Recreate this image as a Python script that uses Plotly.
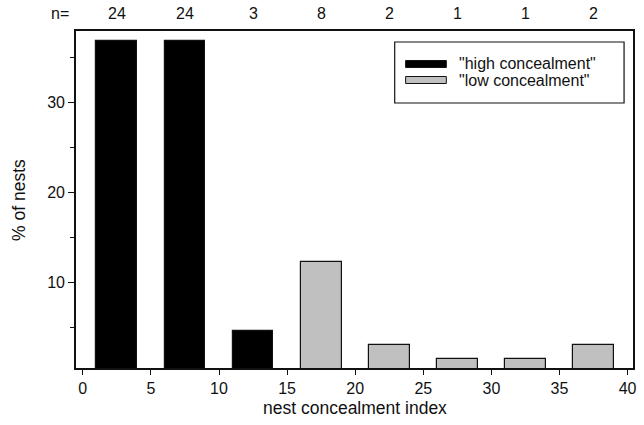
import plotly.graph_objects as go

# data
bin_centers = [2.5, 7.5, 12.5, 17.5, 22.5, 27.5, 32.5, 37.5]
pct_nests = [36.9, 36.9, 4.6, 12.3, 3.1, 1.5, 1.5, 3.1]
n_counts = ["24", "24", "3", "8", "2", "1", "1", "2"]
groups = ["high", "high", "high", "low", "low", "low", "low", "low"]
x_ticks = [0, 5, 10, 15, 20, 25, 30, 35, 40]
y_ticks = [10, 20, 30]
legend_labels = ['"high concealment"', '"low concealment"']

FONT = "Liberation Sans, Arial, Helvetica, sans-serif"
colors = {"high": "#000000", "low": "#c0c0c0"}

fig = go.Figure()
for g in ["high", "low"]:
    xs = [x for x, gg in zip(bin_centers, groups) if gg == g]
    ys = [y for y, gg in zip(pct_nests, groups) if gg == g]
    fig.add_trace(go.Bar(
        x=xs, y=ys, width=3,
        marker=dict(color=colors[g], line=dict(color="#111111", width=1.2)),
        showlegend=False,
    ))

W, H = 644, 425
L, R, T, B = 76, 7, 31, 57

fig.update_layout(
    width=W, height=H,
    margin=dict(l=L, r=R, t=T, b=B),
    paper_bgcolor="white", plot_bgcolor="white",
    font=dict(family=FONT, size=16, color="#111111"),
    bargap=0,
    xaxis=dict(
        range=[-0.5, 40.4], tickvals=x_ticks, ticks="outside", ticklen=5,
        tickwidth=1.2, tickcolor="#111", showline=True, linecolor="#111",
        linewidth=1.6, mirror=True, showgrid=False, zeroline=False,
        tickfont=dict(size=16),
    ),
    yaxis=dict(
        range=[0.5, 38.0], tickvals=y_ticks, ticks="outside", ticklen=6,
        tickwidth=1.2, tickcolor="#111", showline=True, linecolor="#111",
        linewidth=1.6, mirror=True, showgrid=False, zeroline=False,
        tickfont=dict(size=16),
        minor=dict(tickvals=[5, 15, 25, 35], ticks="outside", ticklen=4,
                   tickwidth=1.2, tickcolor="#111"),
    ),
)

# axis titles
fig.add_annotation(text="nest concealment index", xref="paper", yref="paper",
                   x=0.5, y=-(408 - (H - B)) / (H - T - B), showarrow=False,
                   font=dict(size=17.5), xanchor="center", yanchor="middle")
fig.add_annotation(text="% of nests", xref="paper", yref="paper",
                   x=-(L - 18) / (W - L - R), y=0.5, showarrow=False, textangle=-90,
                   font=dict(size=17.5), xanchor="center", yanchor="middle")

# n= row
ny = 1 + (T - 14) / (H - T - B)
fig.add_annotation(text="n=", xref="paper", yref="paper", x=-(L - 60) / (W - L - R),
                   y=ny, showarrow=False, xanchor="center", yanchor="middle",
                   font=dict(size=16))
for xc, n in zip(bin_centers, n_counts):
    fig.add_annotation(text=n, xref="x", yref="paper", x=xc, y=ny, showarrow=False,
                       xanchor="center", yanchor="middle", font=dict(size=16))

# custom legend (pixel -> paper helpers)
def px(xp):
    return (xp - L) / (W - L - R)

def py(yp):
    return 1 - (yp - T) / (H - T - B)

fig.add_shape(type="rect", xref="paper", yref="paper",
              x0=px(397), x1=px(628), y0=py(42), y1=py(103),
              line=dict(color="#111", width=1.2), fillcolor="white")
for i, (lab, g) in enumerate(zip(legend_labels, ["high", "low"])):
    yc = 64 + i * 16
    fig.add_shape(type="rect", xref="paper", yref="paper",
                  x0=px(408), x1=px(449), y0=py(yc - 3.5), y1=py(yc + 3.5),
                  line=dict(color="#111", width=1), fillcolor=colors[g])
    fig.add_annotation(text=lab, xref="paper", yref="paper", x=px(460), y=py(yc),
                       showarrow=False, xanchor="left", yanchor="middle",
                       font=dict(size=16))

fig.write_html("out.html")
